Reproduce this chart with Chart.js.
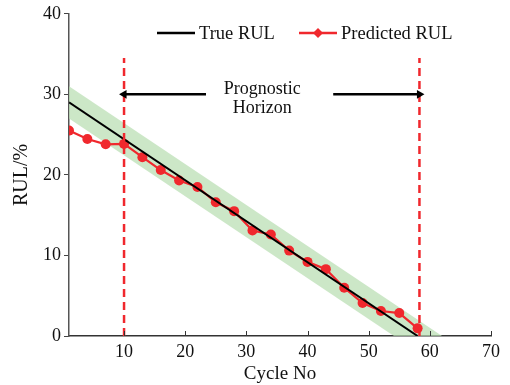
<!DOCTYPE html>
<html>
<head>
<meta charset="utf-8">
<script src="https://cdn.jsdelivr.net/npm/chart.js@4.4.0/dist/chart.umd.min.js"></script>
<style>
html,body{margin:0;padding:0;background:#fff;}
#wrap{width:510px;height:385px;position:relative;}
</style>
</head>
<body>
<div id="wrap"><canvas id="c" width="510" height="385"></canvas></div>
<script>
// ---- data ----
const cycles = [1, 4, 7, 10, 13, 16, 19, 22, 25, 28, 31, 34, 37, 40, 43, 46, 49, 52, 55, 58];
const predictedRUL = [25.5, 24.45, 23.8, 23.85, 22.2, 20.6, 19.3, 18.5, 16.6, 15.5, 13.1, 12.6, 10.6, 9.2, 8.3, 6.0, 4.1, 3.1, 2.85, 0.95];
const trueX = [1, 58];
const trueRUL = [29, 0];
const bandX = [1, 62];
const bandUpper = [31, 0];
const bandLower = [27, -4];
const horizonX = [10, 58.3];
const horizonY = [0, 34.5];
const arrowY = 30;
const leftArrowX = [23.4, 10];
const rightArrowX = [44.2, 58.3];
const horizonLabel = ["Prognostic", "Horizon"];
const horizonLabelX = 32.6;
const horizonLabelY = [30.6, 28.3];
const xTicks = [10, 20, 30, 40, 50, 60, 70];
const yTicks = [0, 10, 20, 30, 40];
const legendLabels = ["True RUL", "Predicted RUL"];

const RED = '#f0282d';
const FONT = '"Liberation Serif", "Times New Roman", serif';
const pts = (xs, ys) => xs.map((x, i) => ({x: x, y: ys[i]}));

const overlay = {
  id: 'overlay',
  afterDatasetsDraw(chart) {
    const ctx = chart.ctx, xs = chart.scales.x, ys = chart.scales.y;
    ctx.save();
    // inward x tick marks
    ctx.strokeStyle = '#333'; ctx.lineWidth = 1;
    xTicks.forEach(v => {
      const px = Math.round(xs.getPixelForValue(v)) + 0.5;
      ctx.beginPath(); ctx.moveTo(px, ys.bottom); ctx.lineTo(px, ys.bottom - 5); ctx.stroke();
    });
    // horizon label
    ctx.fillStyle = '#111';
    ctx.font = '18px ' + FONT;
    ctx.textAlign = 'center'; ctx.textBaseline = 'middle';
    horizonLabel.forEach((t, i) => {
      ctx.fillText(t, xs.getPixelForValue(horizonLabelX), ys.getPixelForValue(horizonLabelY[i]));
    });
    ctx.restore();
  },
  afterDraw(chart) {
    const ctx = chart.ctx;
    ctx.save();
    ctx.font = '18.5px ' + FONT;
    ctx.textBaseline = 'middle'; ctx.textAlign = 'left';
    const ly = 33;
    // True RUL
    ctx.strokeStyle = '#000'; ctx.lineWidth = 2.5;
    ctx.beginPath(); ctx.moveTo(157, ly); ctx.lineTo(195, ly); ctx.stroke();
    ctx.fillStyle = '#111';
    ctx.fillText(legendLabels[0], 199, ly + 1);
    // Predicted RUL
    ctx.strokeStyle = RED; ctx.lineWidth = 2.5;
    ctx.beginPath(); ctx.moveTo(299, ly); ctx.lineTo(337, ly); ctx.stroke();
    ctx.fillStyle = RED;
    ctx.beginPath();
    ctx.moveTo(318, ly - 5); ctx.lineTo(323, ly); ctx.lineTo(318, ly + 5); ctx.lineTo(313, ly);
    ctx.closePath(); ctx.fill();
    ctx.fillStyle = '#111';
    ctx.fillText(legendLabels[1], 341, ly + 1);
    ctx.restore();
  }
};

new Chart(document.getElementById('c'), {
  type: 'line',
  data: {
    datasets: [
      { data: pts(bandX, bandUpper), borderWidth: 0, pointRadius: 0, fill: '+1',
        backgroundColor: 'rgba(185,222,178,0.72)', order: 10 },
      { data: pts(bandX, bandLower), borderWidth: 0, pointRadius: 0, fill: false, order: 11 },
      { data: pts(cycles, predictedRUL), borderColor: RED, borderWidth: 2.2, pointRadius: 5,
        pointBackgroundColor: RED, pointBorderWidth: 0, fill: false, order: 5 },
      { data: pts(trueX, trueRUL), borderColor: '#000', borderWidth: 2, pointRadius: 0, fill: false, order: 4 },
      { data: pts([horizonX[0], horizonX[0]], horizonY), borderColor: RED, borderWidth: 2.5,
        borderDash: [8, 5], pointRadius: 0, fill: false, order: 3 },
      { data: pts([horizonX[1], horizonX[1]], horizonY), borderColor: RED, borderWidth: 2.5,
        borderDash: [8, 5], pointRadius: 0, fill: false, order: 3 },
      { data: pts(leftArrowX, [arrowY, arrowY]), borderColor: '#000', borderWidth: 2.5,
        pointStyle: 'triangle', pointRadius: [0, 5], pointRotation: -90,
        pointBackgroundColor: '#000', pointBorderWidth: 0, fill: false, order: 1 },
      { data: pts(rightArrowX, [arrowY, arrowY]), borderColor: '#000', borderWidth: 2.5,
        pointStyle: 'triangle', pointRadius: [0, 5], pointRotation: 90,
        pointBackgroundColor: '#000', pointBorderWidth: 0, fill: false, order: 1 }
    ]
  },
  options: {
    responsive: false,
    animation: false,
    events: [],
    layout: { padding: { top: 10, right: 19, left: 0, bottom: 0 } },
    plugins: { legend: { display: false }, tooltip: { enabled: false } },
    scales: {
      x: {
        type: 'linear', min: 1, max: 70,
        afterBuildTicks: s => { s.ticks = xTicks.map(v => ({value: v})); },
        afterFit: s => { s.height = 49; },
        grid: { display: true, drawOnChartArea: false, drawTicks: false },
        border: { color: '#333', width: 1.5 },
        ticks: { color: '#111', font: { family: FONT, size: 18 }, padding: 5, maxRotation: 0 },
        title: { display: true, text: 'Cycle No', color: '#111', font: { family: FONT, size: 19 }, padding: { top: 0, bottom: 0 } }
      },
      y: {
        type: 'linear', min: 0, max: 40,
        afterBuildTicks: s => { s.ticks = yTicks.map(v => ({value: v})); },
        afterFit: s => { s.width = 69; },
        grid: { display: true, drawOnChartArea: false, drawTicks: true, tickLength: 5, color: '#444' },
        border: { color: '#555', width: 1.5 },
        ticks: { color: '#111', font: { family: FONT, size: 18 }, padding: 3 },
        title: { display: true, text: 'RUL/%', color: '#111', font: { family: FONT, size: 20 }, padding: { top: 10, bottom: 0 } }
      }
    }
  },
  plugins: [overlay]
});
</script>
</body>
</html>
